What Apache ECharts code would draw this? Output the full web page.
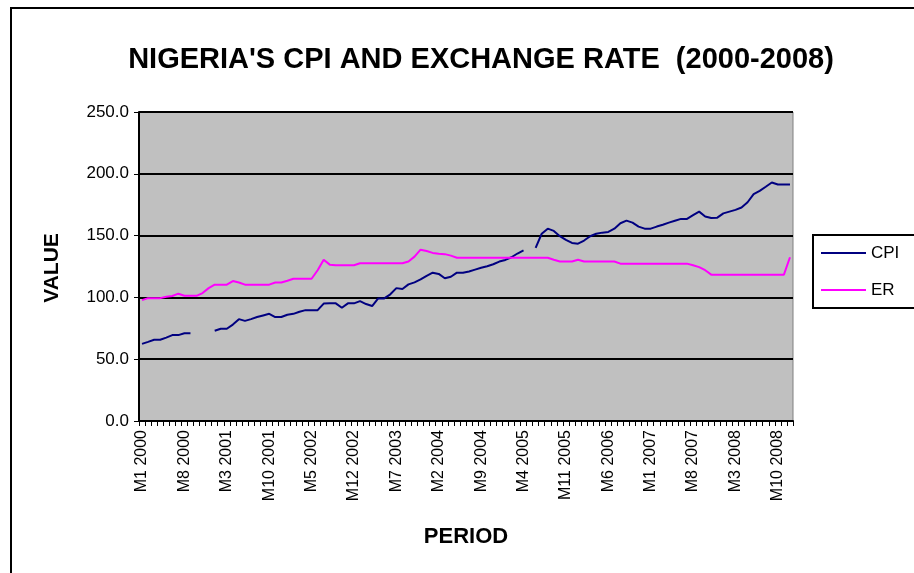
<!DOCTYPE html>
<html>
<head>
<meta charset="utf-8">
<script src="https://cdn.jsdelivr.net/npm/echarts@6/dist/echarts.min.js"></script>
<style>
html,body{margin:0;padding:0;background:#fff;}
#c{width:914px;height:573px;}
</style>
</head>
<body>
<div id="c"></div>
<script>
var years = [2000, 2001, 2002, 2003, 2004, 2005, 2006, 2007, 2008];
var monthsPerYear = 12;
var categories = [];
years.forEach(function (y) { for (var m = 1; m <= monthsPerYear; m++) categories.push('M' + m + ' ' + y); });

var yTicks = [0, 50, 100, 150, 200, 250];

var cpi = [
  62.4, 64.0, 65.7, 65.7, 67.5, 69.5, 69.5, 71.0, 71.0, null, null, null,
  73.0, 74.6, 74.6, 78.0, 82.4, 81.0, 82.4, 84.1, 85.4, 86.7, 84.1, 84.1,
  86.0, 86.7, 88.4, 89.7, 89.7, 89.7, 95.0, 95.2, 95.2, 91.6, 95.2, 95.2,
  97.0, 94.6, 93.0, 99.2, 99.2, 102.5, 107.5, 106.8, 110.5, 112.2, 114.6, 117.5,
  120.0, 119.0, 115.5, 116.7, 120.0, 120.0, 121.0, 122.5, 124.0, 125.2, 126.8, 129.0,
  130.3, 132.5, 135.5, 138.0, null, 140.0, 151.5, 155.6, 153.8, 149.5, 146.5, 144.1,
  143.5, 146.0, 149.5, 151.5, 152.4, 153.0, 155.6, 160.0, 162.1, 160.5, 157.3, 155.6,
  155.6, 157.3, 158.8, 160.5, 162.0, 163.5, 163.5, 166.5, 169.4, 165.5, 164.3, 164.5,
  168.0, 169.4, 170.8, 172.7, 177.0, 183.5, 186.2, 189.5, 193.0, 191.3, 191.3, 191.3
];

var er = [
  97.8, 99.4, 99.4, 99.4, 100.5, 101.1, 103.0, 101.3, 101.3, 101.3, 103.5, 107.5,
  110.3, 110.3, 110.3, 113.2, 112.0, 110.3, 110.3, 110.3, 110.3, 110.3, 112.0, 112.0,
  113.5, 115.1, 115.1, 115.1, 115.1, 122.0, 130.5, 126.5, 126.0, 126.0, 126.0, 126.0,
  127.6, 127.6, 127.6, 127.6, 127.6, 127.6, 127.6, 127.6, 129.0, 133.0, 138.6, 137.5,
  136.0, 135.4, 135.0, 133.8, 132.1, 132.1, 132.1, 132.1, 132.1, 132.1, 132.1, 132.1,
  132.1, 132.1, 132.1, 132.1, 132.1, 132.1, 132.1, 132.1, 130.5, 129.0, 129.0, 129.0,
  130.5, 129.0, 129.0, 129.0, 129.0, 129.0, 129.0, 127.3, 127.3, 127.3, 127.3, 127.3,
  127.3, 127.3, 127.3, 127.3, 127.3, 127.3, 127.3, 126.0, 124.5, 122.0, 118.4, 118.4,
  118.4, 118.4, 118.4, 118.4, 118.4, 118.4, 118.4, 118.4, 118.4, 118.4, 118.4, 132.5
];

var chart = echarts.init(document.getElementById('c'), null, {renderer: 'canvas'});
var FONT = '"Liberation Sans", Arial, sans-serif';
chart.setOption({
  animation: false,
  backgroundColor: '#ffffff',
  textStyle: {fontFamily: FONT},
  legend: {
    orient: 'vertical',
    left: 813, top: 235,
    padding: [9, 30, 9, 8],
    borderColor: '#000', borderWidth: 2,
    itemWidth: 45, itemHeight: 2, itemGap: 19,
    icon: 'rect',
    textStyle: {fontFamily: FONT, fontSize: 17, color: '#000', lineHeight: 18},
    data: ['CPI', 'ER']
  },
  grid: {
    left: 139, top: 112, width: 654, height: 309,
    show: true, backgroundColor: '#C0C0C0', borderColor: '#808080', borderWidth: 1
  },
  xAxis: {
    type: 'category',
    data: categories,
    boundaryGap: true,
    axisLine: {lineStyle: {color: '#000', width: 2}},
    axisTick: {show: true, interval: 0, length: 5, lineStyle: {color: '#000', width: 1}},
    axisLabel: {interval: 6, rotate: 90, fontSize: 16, color: '#000', margin: 9, fontFamily: FONT},
    splitLine: {show: false}
  },
  yAxis: {
    type: 'value',
    min: yTicks[0], max: yTicks[yTicks.length - 1], interval: 50,
    axisLine: {show: true, lineStyle: {color: '#000', width: 2}},
    axisTick: {show: true, length: 5, lineStyle: {color: '#000', width: 1}},
    axisLabel: {fontSize: 17, color: '#000', margin: 10, fontFamily: FONT,
      formatter: function (v) { return v.toFixed(1); }},
    splitLine: {show: true, lineStyle: {color: '#000', width: 2}}
  },
  series: [
    {name: 'CPI', type: 'line', data: cpi, showSymbol: false, connectNulls: false,
      itemStyle: {color: '#000080'}, lineStyle: {color: '#000080', width: 2}},
    {name: 'ER', type: 'line', data: er, showSymbol: false, connectNulls: false,
      itemStyle: {color: '#FF00FF'}, lineStyle: {color: '#FF00FF', width: 2}}
  ],
  graphic: [
    {type: 'rect', shape: {x: 11, y: 8, width: 930, height: 590}, silent: true, z: -10,
      style: {fill: null, stroke: '#000', lineWidth: 2}},
    {type: 'text', x: 481, y: 60,
      style: {text: "NIGERIA'S CPI AND EXCHANGE RATE  (2000-2008)", font: 'bold 29px ' + FONT, fill: '#000', textAlign: 'center', textVerticalAlign: 'middle'}},
    {type: 'text', x: 52, y: 268, rotation: Math.PI / 2,
      style: {text: 'VALUE', font: 'bold 21px ' + FONT, fill: '#000', textAlign: 'center', textVerticalAlign: 'middle'}},
    {type: 'text', x: 466, y: 537,
      style: {text: 'PERIOD', font: 'bold 22px ' + FONT, fill: '#000', textAlign: 'center', textVerticalAlign: 'middle'}}
  ]
});
</script>
</body>
</html>
